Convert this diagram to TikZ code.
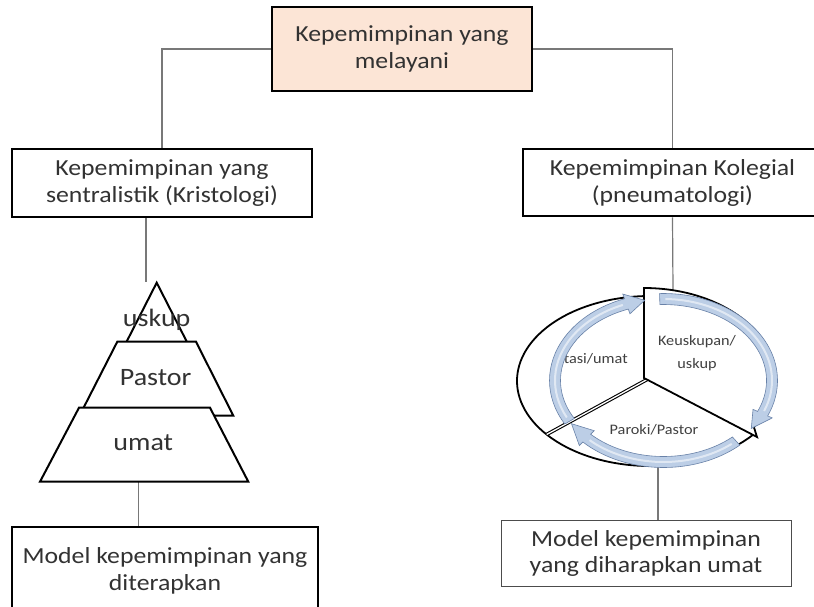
\documentclass[tikz,border=0pt]{standalone}
\usepackage{fontspec}
\setmainfont{Carlito}[FakeStretch=1.12]
\usetikzlibrary{calc}
\definecolor{peach}{RGB}{252,229,214}
\definecolor{txt}{RGB}{50,50,50}
\definecolor{conngray}{RGB}{120,120,120}
\definecolor{ringfillc}{RGB}{188,206,230}
\definecolor{ringline}{RGB}{105,130,168}
\tikzset{
  boxthick/.style={draw=black, line width=2.8pt, fill=white, align=center, text=txt,
    font=\fontsize{23}{27}\selectfont, inner sep=0pt},
  boxthin/.style={draw=black!70, line width=1pt, fill=white, align=center, text=txt,
    font=\fontsize{23}{26}\selectfont, inner sep=0pt},
  conn/.style={draw=conngray, line width=1.2pt},
  pyr/.style={draw=black, line width=2pt, fill=white, line join=miter},
  pyrtext/.style={text=txt, font=\fontsize{25}{28}\selectfont, inner sep=0pt},
  pietext/.style={text=black!75, font=\fontsize{14.5}{23}\selectfont, align=center, inner sep=0pt},
  pieline/.style={draw=black, line width=1.8pt, fill=white, line join=miter},
  ringfill/.style={fill=ringfillc, draw=ringline, line width=0.6pt, line join=miter},
}
\newcommand\ringarrow[3]{%
  \path[ringfill] ($(RC)+(#1:114 and 87)$) arc[start angle=#1,end angle=#2,x radius=114,y radius=87]
    -- ($(RC)+(#2:119 and 92)$) -- ($(RC)+(#3:108.5 and 81.5)$) -- ($(RC)+(#2:98 and 71)$)
    -- ($(RC)+(#2:103 and 76)$) arc[start angle=#2,end angle=#1,x radius=103,y radius=76] -- cycle;
  \draw[white, opacity=0.55, line width=2pt] ($(RC)+(#1+3:108.5 and 81.5)$)
    arc[start angle=#1+3,end angle=#2-2,x radius=108.5,y radius=81.5];
}
\begin{document}
\begin{tikzpicture}[x=1pt,y=-1pt]
\useasboundingbox (0,0) rectangle (814,606);

% boxes
\node[boxthick, fill=peach, minimum width=260pt, minimum height=84pt] (T) at (402,49)
  {Kepemimpinan yang\\melayani};
\node[boxthick, minimum width=300pt, minimum height=68pt] (L1) at (162,183)
  {Kepemimpinan yang\\sentralistik (Kristologi)};
\node[boxthick, minimum width=299pt, minimum height=67pt] (R1) at (672.5,182.5)
  {Kepemimpinan Kolegial\\(pneumatologi)};
\node[boxthick, minimum width=306pt, minimum height=88pt] (L2) at (165,571)
  {Model kepemimpinan yang\\diterapkan};
\node[boxthin, minimum width=290pt, minimum height=66pt] (R2) at (646,553)
  {Model kepemimpinan\\yang diharapkan umat};

% connectors from top
\draw[conn] (T.west) -| (L1.north);
\draw[conn] (T.east) -| (R1.north);

% pyramid
\coordinate (apex) at (156.7,282.7);
\coordinate (pyrT) at (146,282);
\coordinate (pyrB) at (138.3,481.7);
\draw[conn] (pyrT |- L1.south) -- (pyrT);
\draw[conn] (pyrB) -- (pyrB |- L2.north);
\path[pyr] (apex) -- (119.8,355) -- (193.6,355) -- cycle;
\path[pyr] (117.3,341.7) -- (196,341.7) -- (233.3,415.7) -- (79.5,415.7) -- cycle;
\path[pyr] (79,407.7) -- (210,407.7) -- (248.3,481.7) -- (40,481.7) -- cycle;
\node[pyrtext] (tu) at (156.7,320) {uskup};
\node[pyrtext] (tp) at (155.7,378) {Pastor};
\node[pyrtext] (tm) at (143.3,443) {umat};

% pie
\coordinate (E) at (650,381);
\coordinate (PC) at (648,379);
\coordinate (KC) at (644,378);
\coordinate (pieT) at (673,290);
\coordinate (pieB) at (658,466);
\coordinate (RC) at (663.5,380.5);
\draw[conn] (R1.south) -- (pieT);
\draw[conn] (pieB) -- (pieB |- R2.north);
\path[pieline] (PC) -- ($(E)+(39:133 and 85)$)
  arc[start angle=39,end angle=270,x radius=133,y radius=85] -- cycle;
\draw[black, line width=1.1pt, double=white, double distance=1.3pt]
  ($(E)+(141:133 and 85)$) -- (PC);
\path[pieline] (KC) -- (644,288) arc[start angle=270,end angle=393,x radius=131,y radius=90]
  -- (757,437) -- cycle;

\node[pietext] (k) at (697,353) {Keuskupan/\\uskup};
\node[pietext] (s) at (592,359) {Stasi/umat};
\node[pietext] (p) at (654,430) {Paroki/Pastor};

% ring arrows
\ringarrow{-92}{24}{36}
\ringarrow{48}{135}{148}
\ringarrow{150}{250}{260}
\end{tikzpicture}
\end{document}
